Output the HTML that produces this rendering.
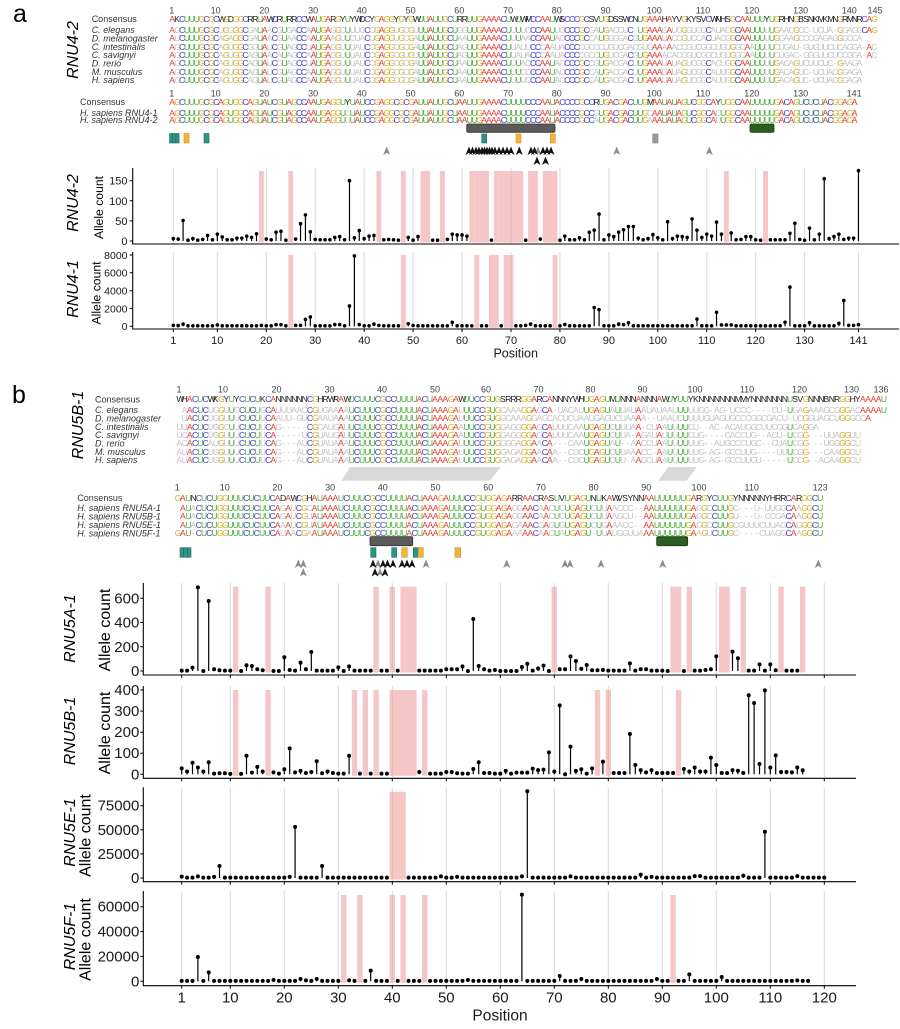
<!DOCTYPE html>
<html><head><meta charset="utf-8">
<style>
html,body{margin:0;padding:0;background:#fff}
body{width:900px;height:1029px;position:relative;overflow:hidden;font-family:"Liberation Sans",sans-serif}
svg{position:absolute;left:0;top:0}
.r{position:absolute;white-space:pre;font-size:8.6px;line-height:10px;height:10px;font-family:"Liberation Sans",sans-serif;color:#aaa}
.r span{display:inline-block;text-align:center;overflow:visible}
#A1 .r span,#A2 .r span{width:4.875px}
#B1 .r span{width:5.22px}
#B2 .r span{width:5.27px}
.blk{position:absolute;left:0;top:0}
.it{font-style:italic}
</style></head>
<body>
<svg width="900" height="1029" viewBox="0 0 900 1029" font-family="Liberation Sans, sans-serif">
<defs><path id="ar" d="M0,0L3.5,8.5L0,6.3L-3.5,8.5Z"/></defs>
<g id="plots"></g>

<!-- panel letters -->
<text x="13" y="22" font-size="25" fill="#000">a</text>
<text x="12" y="403" font-size="25" fill="#000">b</text>

<!-- alignment vertical labels -->
<text class="it" transform="translate(78,50) rotate(-90)" text-anchor="middle" font-size="16" fill="#000">RNU4-2</text>
<text class="it" transform="translate(83,425) rotate(-90)" text-anchor="middle" font-size="16" fill="#000">RNU5B-1</text>

<!-- block labels -->
<g font-size="9" fill="#333">
<text x="91.7" y="22.2">Consensus</text>
<g class="it">
<text x="91.7" y="33.2">C. elegans</text>
<text x="91.7" y="41.5">D. melanogaster</text>
<text x="91.7" y="49.9">C. intestinalis</text>
<text x="91.7" y="58.2">C. savignyi</text>
<text x="91.7" y="66.5">D. rerio</text>
<text x="91.7" y="74.9">M. musculus</text>
<text x="91.7" y="83.2">H. sapiens</text>
</g>
<text x="80" y="104.9">Consensus</text>
<g class="it">
<text x="80" y="115.9">H. sapiens RNU4-1</text>
<text x="80" y="123.2">H. sapiens RNU4-2</text>
</g>
<text x="95" y="402.5">Consensus</text>
<g class="it">
<text x="95" y="413.2">C. elegans</text>
<text x="95" y="421.5">D. melanogaster</text>
<text x="95" y="429.9">C. intestinalis</text>
<text x="95" y="438.2">C. savignyi</text>
<text x="95" y="446.5">D. rerio</text>
<text x="95" y="454.9">M. musculus</text>
<text x="95" y="463.2">H. sapiens</text>
</g>
<text x="77.3" y="500.9">Consensus</text>
<g class="it">
<text x="77.3" y="511.2">H. sapiens RNU5A-1</text>
<text x="77.3" y="519.5">H. sapiens RNU5B-1</text>
<text x="77.3" y="528.2">H. sapiens RNU5E-1</text>
<text x="77.3" y="536.5">H. sapiens RNU5F-1</text>
</g>
</g>

<!-- alignment numbers -->
<g font-size="9" fill="#444" text-anchor="middle">
<text x="171.7" y="13.3">1</text><text x="215.6" y="13.3">10</text><text x="264.3" y="13.3">20</text><text x="313.1" y="13.3">30</text><text x="361.8" y="13.3">40</text><text x="410.6" y="13.3">50</text><text x="459.3" y="13.3">60</text><text x="508.1" y="13.3">70</text><text x="556.8" y="13.3">80</text><text x="605.6" y="13.3">90</text><text x="654.3" y="13.3">100</text><text x="703.1" y="13.3">110</text><text x="751.8" y="13.3">120</text><text x="800.6" y="13.3">130</text><text x="849.3" y="13.3">140</text><text x="875" y="13.3">145</text>
<text x="171.7" y="96.6">1</text><text x="215.6" y="96.6">10</text><text x="264.3" y="96.6">20</text><text x="313.1" y="96.6">30</text><text x="361.8" y="96.6">40</text><text x="410.6" y="96.6">50</text><text x="459.3" y="96.6">60</text><text x="508.1" y="96.6">70</text><text x="556.8" y="96.6">80</text><text x="605.6" y="96.6">90</text><text x="654.3" y="96.6">100</text><text x="703.1" y="96.6">110</text><text x="751.8" y="96.6">120</text><text x="800.6" y="96.6">130</text><text x="854.2" y="96.6">141</text>
<text x="179" y="392.6">1</text><text x="223" y="392.6">10</text><text x="276.5" y="392.6">20</text><text x="329.5" y="392.6">30</text><text x="382" y="392.6">40</text><text x="435" y="392.6">50</text><text x="486" y="392.6">60</text><text x="538.5" y="392.6">70</text><text x="590.5" y="392.6">80</text><text x="642.5" y="392.6">90</text><text x="695" y="392.6">100</text><text x="747" y="392.6">110</text><text x="799.5" y="392.6">120</text><text x="851.5" y="392.6">130</text><text x="881" y="392.6">136</text>
<text x="177.3" y="490.6">1</text><text x="224.7" y="490.6">10</text><text x="277.4" y="490.6">20</text><text x="330.1" y="490.6">30</text><text x="382.8" y="490.6">40</text><text x="435.5" y="490.6">50</text><text x="488.2" y="490.6">60</text><text x="540.9" y="490.6">70</text><text x="593.6" y="490.6">80</text><text x="646.3" y="490.6">90</text><text x="699" y="490.6">100</text><text x="751.7" y="490.6">110</text><text x="820.2" y="490.6">123</text>
</g>

<!-- panel a annotation bars/boxes -->
<rect x="466.7" y="124" width="88.3" height="8.3" rx="1.5" fill="#5a5a5a" stroke="#333" stroke-width="0.8"/>
<rect x="750" y="124" width="24" height="8.3" rx="1.5" fill="#2c5e22" stroke="#173a10" stroke-width="0.8"/>
<g stroke-width="0.6">
<rect x="169.5" y="133.5" width="3.2" height="9.5" fill="#2e9585" stroke="#1f6b5f"/>
<rect x="172.7" y="133.5" width="3.2" height="9.5" fill="#2e9585" stroke="#1f6b5f"/>
<rect x="175.9" y="133.5" width="3.2" height="9.5" fill="#2e9585" stroke="#1f6b5f"/>
<rect x="184" y="133.5" width="5" height="9.5" fill="#f2b53a" stroke="#d4922a"/>
<rect x="204" y="133.5" width="5" height="9.5" fill="#2e9585" stroke="#1f6b5f"/>
<rect x="481.7" y="134" width="5" height="9" fill="#2e9585" stroke="#1f6b5f"/>
<rect x="516" y="134" width="5" height="9" fill="#f2b53a" stroke="#d4922a"/>
<rect x="550.3" y="134" width="5" height="9" fill="#f2b53a" stroke="#d4922a"/>
<rect x="652.7" y="134" width="5.3" height="9" fill="#9a9a9a" stroke="#888"/>
</g>

<!-- panel b annotations -->
<polygon points="350,467 500.7,467 490,480.7 341.7,480.7" fill="#d9d9d9"/>
<polygon points="668.3,467 696.7,467 686.7,480.7 658.3,480.7" fill="#d9d9d9"/>
<rect x="370" y="536.7" width="42.7" height="9" rx="1.5" fill="#5a5a5a" stroke="#333" stroke-width="0.8"/>
<rect x="656.7" y="536.7" width="31" height="9" rx="1.5" fill="#2c5e22" stroke="#173a10" stroke-width="0.8"/>
<g stroke-width="0.6">
<rect x="180" y="547.7" width="3.7" height="9.6" fill="#2e9585" stroke="#1f6b5f"/>
<rect x="183.7" y="547.7" width="3.7" height="9.6" fill="#2e9585" stroke="#1f6b5f"/>
<rect x="187.4" y="547.7" width="3.6" height="9.6" fill="#2e9585" stroke="#1f6b5f"/>
<rect x="370.7" y="547.7" width="5.3" height="9.6" fill="#2e9585" stroke="#1f6b5f"/>
<rect x="391.7" y="547.7" width="5" height="9.6" fill="#2e9585" stroke="#1f6b5f"/>
<rect x="401.7" y="547.7" width="5.6" height="9.6" fill="#f2b53a" stroke="#d4922a"/>
<rect x="413.3" y="547.7" width="5" height="9.6" fill="#2e9585" stroke="#1f6b5f"/>
<rect x="418.3" y="547.7" width="5" height="9.6" fill="#f2b53a" stroke="#d4922a"/>
<rect x="455" y="547.7" width="5.7" height="9.6" fill="#f2b53a" stroke="#d4922a"/>
</g>
<g id="arrows"></g>

<!-- panel a axis text -->
<g font-size="11" fill="#1a1a1a" text-anchor="end">
<text x="127.5" y="184.7">150</text><text x="127.5" y="204.8">100</text><text x="127.5" y="224.9">50</text><text x="127.5" y="245">0</text>
</g>
<g font-size="10.5" fill="#1a1a1a" text-anchor="end">
<text x="127.5" y="258.8">8000</text><text x="127.5" y="276.6">6000</text><text x="127.5" y="294.5">4000</text><text x="127.5" y="312.3">2000</text><text x="127.5" y="330.1">0</text>
</g>
<path d="M129.7,180.7H132.7M129.7,200.8H132.7M129.7,220.9H132.7M129.7,241H132.7M129.7,255H132.7M129.7,272.8H132.7M129.7,290.7H132.7M129.7,308.5H132.7M129.7,326.3H132.7" stroke="#000" stroke-width="1"/>
<g font-size="11" fill="#1a1a1a" text-anchor="middle">
<text x="173.3" y="344">1</text><text x="217.3" y="344">10</text><text x="266.3" y="344">20</text><text x="315.2" y="344">30</text><text x="364.2" y="344">40</text><text x="413.1" y="344">50</text><text x="462" y="344">60</text><text x="511" y="344">70</text><text x="559.9" y="344">80</text><text x="608.9" y="344">90</text><text x="657.8" y="344">100</text><text x="706.8" y="344">110</text><text x="755.7" y="344">120</text><text x="804.6" y="344">130</text><text x="858.5" y="344">141</text>
</g>
<text x="515.7" y="357.5" font-size="12.5" text-anchor="middle" fill="#1a1a1a">Position</text>
<text class="it" transform="translate(78,203) rotate(-90)" text-anchor="middle" font-size="16" fill="#000">RNU4-2</text>
<text transform="translate(103,207.5) rotate(-90)" text-anchor="middle" font-size="12.2" fill="#000">Allele count</text>
<text class="it" transform="translate(78,289) rotate(-90)" text-anchor="middle" font-size="16" fill="#000">RNU4-1</text>
<text transform="translate(100.5,293) rotate(-90)" text-anchor="middle" font-size="12.2" fill="#000">Allele count</text>

<!-- panel b axis text -->
<g font-size="15" fill="#1a1a1a" text-anchor="end">
<text x="139.3" y="603.3">600</text><text x="139.3" y="627.5">400</text><text x="139.3" y="651.8">200</text><text x="139.3" y="676">0</text>
<text x="139.3" y="695">400</text><text x="139.3" y="716.1">300</text><text x="139.3" y="737.2">200</text><text x="139.3" y="758.2">100</text><text x="139.3" y="779.3">0</text>
<text x="139.3" y="810.7">75000</text><text x="139.3" y="834.8">50000</text><text x="139.3" y="858.9">25000</text><text x="139.3" y="883">0</text>
<text x="139.3" y="911.7">60000</text><text x="139.3" y="936.6">40000</text><text x="139.3" y="961.4">20000</text><text x="139.3" y="986.3">0</text>
</g>
<path d="M140.3,598.3H143.3M140.3,622.5H143.3M140.3,646.8H143.3M140.3,671H143.3M140.3,690H143.3M140.3,711.1H143.3M140.3,732.2H143.3M140.3,753.2H143.3M140.3,774.3H143.3M140.3,805.7H143.3M140.3,829.8H143.3M140.3,853.9H143.3M140.3,878H143.3M140.3,906.7H143.3M140.3,931.6H143.3M140.3,956.4H143.3M140.3,981.3H143.3" stroke="#000" stroke-width="1"/>
<g font-size="15" fill="#1a1a1a" text-anchor="middle">
<text x="181.7" y="1002.5">1</text><text x="230.3" y="1002.5">10</text><text x="284.3" y="1002.5">20</text><text x="338.3" y="1002.5">30</text><text x="392.3" y="1002.5">40</text><text x="446.3" y="1002.5">50</text><text x="500.3" y="1002.5">60</text><text x="554.3" y="1002.5">70</text><text x="608.3" y="1002.5">80</text><text x="662.3" y="1002.5">90</text><text x="716.3" y="1002.5">100</text><text x="770.3" y="1002.5">110</text><text x="824.3" y="1002.5">120</text>
</g>
<text x="500" y="1020.5" font-size="15.5" text-anchor="middle" fill="#1a1a1a">Position</text>
<text class="it" transform="translate(75,628.5) rotate(-90)" text-anchor="middle" font-size="16" fill="#000">RNU5A-1</text>
<text transform="translate(110,630) rotate(-90)" text-anchor="middle" font-size="16" fill="#000">Allele count</text>
<text class="it" transform="translate(75,731) rotate(-90)" text-anchor="middle" font-size="16" fill="#000">RNU5B-1</text>
<text transform="translate(110,733) rotate(-90)" text-anchor="middle" font-size="16" fill="#000">Allele count</text>
<text class="it" transform="translate(75,832.5) rotate(-90)" text-anchor="middle" font-size="16" fill="#000">RNU5E-1</text>
<text transform="translate(90.7,835.5) rotate(-90)" text-anchor="middle" font-size="16" fill="#000">Allele count</text>
<text class="it" transform="translate(75,936.5) rotate(-90)" text-anchor="middle" font-size="16" fill="#000">RNU5F-1</text>
<text transform="translate(90.7,939.5) rotate(-90)" text-anchor="middle" font-size="16" fill="#000">Allele count</text>
</svg>

<div class="blk" id="A1">
<div class="r" style="left:169.3px;top:14px">AKCUUUGCGCWGDGGCRRUAWCRURRCCWAUGARGYUYWDCYGAGGYGYGWUUAUUGCURRUUGAAAACUWUWMCCAAUWSCCCGCSVUGDSSWCNUGAAAHAYVGKYSVCWNHSGCAAUUUYUGRHNGBSNKMKMNGRMNRCAG</div>
<div class="r" style="left:169.3px;top:25px">AGCUUUGCGCUGGGGCGAUAACGUGACCAAUGAGGCUUUGCCGAGGUGCGUUUAUUGCUGGUUGAAAACUUUUCCCAAUUGCCCGCGAUGACCUC-UGAAACAUGGGUGCCAUACGCAAUUUUUGAACGCC-UCUA-GGAGGCAG</div>
<div class="r" style="left:169.3px;top:33.3px">AUCUUUGCGCAGAGGCGAUAACGUAACCAAUGAAGUUCUACUGAGGUGCGAUUAUUGCUAAUUGAAAACUUUAACCAAUACCCCGCCAUGGGGACGUGAAAUACCGUCCACUACGGCAAUUUUUGGAAGCCCGAGAGGGCCA</div>
<div class="r" style="left:169.3px;top:41.7px">AGCUUUGCGCAGUGGCGGUAUCGUAGCCUAUGAGGUUUAUCCGAGGCGCGAUUAUUGCUAGUUGAAAACUUAUUCCCAAUACCCCGCCCUGUCGACGUGAAAAACCGUCGGCUGUGGCAAUUUUCUGAU-GUGUUCUCAGGA-AC</div>
<div class="r" style="left:169.3px;top:50px">AGCUUUGCGCAGUGGCAGUAACAUAGCCAAUGAGGUUUAUCCGAGGCGUGUUUAUUGCUAGUUGAAAACUUAUACCCAAUACCCCGCCUGUCGACGUGAAAACACCGUCGGCUGUGGCAAUUUUCUGAC-GGGUUCUCCGGA-AC</div>
<div class="r" style="left:169.3px;top:58.3px">AGCUUUGCGCAGUGGCAGUAUCGUAGCCUAUGAGGUUUAUCCGAGGCGCGAUUAUUGCUAAUUGAAAACUUUACCCAAUACCCCGCCGUGACGACUUGAAAUAUAGUCGGCACUGGCAAUUUUUGACAGUCUUCUC-GAAGA</div>
<div class="r" style="left:169.3px;top:66.7px">AGCUUUGCGCAGUGGCAGUAUCGUAGCCAAUGAGGUUUAUCCGAGGCGCGAUUAUUGCUAAUUGAAAACUUUCCCCAAUACCCCGCCAUGACGACUUGAAAUAUAGUCGGCAUUGGCAAUUUUUGACAGUC-UCUACGGAGA</div>
<div class="r" style="left:169.3px;top:75px">AGCUUUGCGCAGUGGCAGUAUCGUAGCCAAUGAGGUUUAUCCGAGGCGCGAUUAUUGCUAAUUGAAAACUUUUCCCAAUACCCCGCCAUGACGACUUGAAAUAUAGUCGGCAUUGGCAAUUUUUGACAGUC-UCUACGGAGA</div>
</div>
<div class="blk" id="A2">
<div class="r" style="left:169.3px;top:96.7px">AGCUUUGCGCAGUGGCAGUAUCGUAGCCAAUGAGGUYUAUCCGAGGCGCGAUUAUUGCUAAUUGAAAACUUUUCCCAAUACCCCGCCRUGACGACUUGMAAUAUAGUCGGCAYUGGCAAUUUUUGACAGUCUCUACGGAGA</div>
<div class="r" style="left:169.3px;top:107.7px">AGCUUUGCGCAGUGGCAGUAUCGUAGCCAAUGAGGUCUAUCCGAGGCGCGAUUAUUGCUAAUUGAAAACUUUUCCCAAUACCCCGCCGUGACGACUUGCAAUAUAGUCGGCACUGGCAAUUUUUGACAGUCUCUACGGAGA</div>
<div class="r" style="left:169.3px;top:115px">AGCUUUGCGCAGUGGCAGUAUCGUAGCCAAUGAGGUUUAUCCGAGGCGCGAUUAUUGCUAAUUGAAAACUUUUCCCAAUACCCCGCCAUGACGACUUGAAAUAUAGUCGGCAUUGGCAAUUUUUGACAGUCUCUACGGAGA</div>
</div>
<div class="blk" id="B1">
<div class="r" style="left:176.4px;top:394.3px">WHACUCWKGYUYCUCUKCANNNNNNCGHRWRAWUCUUUCGCCUUUUACUAAAGAWUUCCGUGSRRRGGARCANNNYWHUGAGUMUNNNANNNAWUYUUYKNNNNNNNMMYNNNNNNNUSVGNNNBNRGGHYAAAAU</div>
<div class="r" style="left:176.4px;top:405px"> AACUCUGGUUCCUCUGCAUUUAACCGUGAAAAUCUUUCGCCUUUUACUAAAGAUUUCCGUGCAAAGGAGCA-UACAUUGAGUAUUAUAAUAUAAUUUUUGG-AG-UCCC----CU-UGAGAAAGCGGGACAAAAU</div>
<div class="r" style="left:176.4px;top:413.3px"> UACUCUGGUUUCUCUUCAAUU-GUCGAAUAAAUCUUUCGCCUUUUACUAAAGAUUUCCGUGGCAAAGGAGCACUCUAAUGAGUCUAAAA--UAAUCUUUUGUAGUGCCCGGCGACU-UCGGUAGCUGGGCCA</div>
<div class="r" style="left:176.4px;top:421.7px">UUACUCUGGCUUCUCUUCAG-----CGCAUGAUUCUUUCGCCUUUUACUAAAGAAUUCCGUGGAGGGGAGCAUUUCAAUGAGUCUUUAA-CUAAUUUUCU--AC-ACAUGGCUUCGGUCAGGA</div>
<div class="r" style="left:176.4px;top:430px">UCACUCUGGUUUCUCUUCA-----UCGUAUGAUUCUUUCGCCUUUUACUAAAGAAUUCCGUGGAGGGGAGCAUUUCAAUGAGUCUUA-AGAUAUUUUUCUG----CACCUG--ACU-UCGG---UUAGGUU</div>
<div class="r" style="left:176.4px;top:438.3px">ACACUCAUGUUUCUCUUCAG---AUCGUAUAAAUCUUUCGCCUUUUACUAAAGAUUUCCGUGGGGAGGAACA---CAAUGAGUAU--AACCUAAUUUUUUG--AUGCCCUGC--CUAUCGG---UGGGGCU</div>
<div class="r" style="left:176.4px;top:446.7px">AUACUCUGGUUUCUCUUCAG---AUCGUAUAAAUCUUUCGCCUUUUACUAAAGAUUUCCGUGGAGAGGAACAA--CUCUGAGUCUUAAACC-AAUUUUUUG-AG-GCCUUG----UUUCGG---CAAGGCU</div>
<div class="r" style="left:176.4px;top:455px">AUACUCUGGUUUCUCUUCAG---AUCGUAUAAAUCUUUCGCCUUUUACUAAAGAUUUCCGUGGAGAGGAACAA--CUCUGAGUCUU-AAGCUAAUUUUUUG-AG-GCCUUGU-----UCCG--ACAAGGCU</div>
</div>
<div class="blk" id="B2">
<div class="r" style="left:174.7px;top:492.7px">GAUNCUCUGGUUUCUCUUCADAWCGHAUAAAUCUUUCGCCUUUUACUAAAGAUUUCCGUGGAGARRAACRASUVUGAGUNUKAWVSYNNAAUUUUUUGARGYCUUGYNNNNNYHRRCARGGCU</div>
<div class="r" style="left:174.7px;top:503px"> AUACUCUGGUUUCUCUUCAGAUCGCAUAAAUCUUUCGCCUUUUACUAAAGAUUUCCGUGGAGAGGAACAACUCUGAGUCUUAACCC--AAUUUUUUGAGGCCUUGC---U-UUGGCAAGGCU</div>
<div class="r" style="left:174.7px;top:511.3px"> AUACUCUGGUUUCUCUUCAGAUCGUAUAAAUCUUUCGCCUUUUACUAAAGAUUUCCGUGGAGAGGAACAACUCUGAGUCUUAAGCU--AAUUUUUUGAGGCCUUGU---U-CCGACAAGGCU</div>
<div class="r" style="left:174.7px;top:520px"> AUACUCUGGUUUCUCUUCAAAUCGUAUAAAUCUUUCGCCUUUUACUAAAGAUUUCCGUGGAGAGAAACGAGUGUGAGUCUGAAACC--AAUUUUUUGAGGCCUUGCGUUUCUUAGCAGGGCU</div>
<div class="r" style="left:174.7px;top:528.3px">GAU-CUCUGGUUUCUCUUCAUAACGAAUAAAUCUUUCGCCUUUUACUAAAGAUUUCCGUGGAGAAAAACAACUAUGAGU-UUAUGGUUAAAUUUUUUGAAGUCUUGC----CUAGGCAAGGCU</div>
</div>

<script>
(function(){
var COL={A:'#e23b2f',C:'#3a3ad0',G:'#d4ae22',U:'#4aae3c'};
['A1','A2','B1','B2'].forEach(function(id){
  var rows=document.querySelectorAll('#'+id+' .r');
  var cons=rows[0].textContent;
  for(var ri=0;ri<rows.length;ri++){
    var r=rows[ri],s=r.textContent;r.textContent='';
    var frag=document.createDocumentFragment();
    for(var i=0;i<s.length;i++){
      var c=s[i],sp=document.createElement('span');sp.textContent=c;
      sp.style.color = ri===0 ? (COL[c]||'#1a1a1a') : ((c===cons[i]&&COL[c])?COL[c]:'#c3c3c3');
      frag.appendChild(sp);
    }
    r.appendChild(frag);
  }
});

var NS='http://www.w3.org/2000/svg';
var G=document.getElementById('plots');
function el(tag,a,parent){var e=document.createElementNS(NS,tag);for(var k in a)e.setAttribute(k,a[k]);(parent||G).appendChild(e);return e;}
function parse(s){return s.split(',').map(function(v){return v==='x'?null:+v;});}
function dflt(n,d,o){var a=[];for(var i=0;i<n;i++)a.push(d);for(var k in o)a[k-1]=o[k];return a;}
function plot(c){
  var X=function(p){return c.x0+(p-1)*c.dx;};
  c.grid.forEach(function(p){el('line',{x1:X(p),x2:X(p),y1:c.top,y2:c.axis,stroke:'#d9d9d9','stroke-width':1});});
  c.v.forEach(function(v,i){if(v===null)el('rect',{x:X(i+1)-c.dx/2,y:c.bt,width:c.dx,height:c.y0-c.bt+1.5,fill:'rgb(240,160,160)','fill-opacity':0.6});});
  el('line',{x1:c.left,x2:c.left,y1:c.top,y2:c.axis+0.5,stroke:'#000','stroke-width':1.1});
  el('line',{x1:c.left,x2:c.right,y1:c.axis,y2:c.axis,stroke:'#000','stroke-width':1.1});
  if(c.ticks)c.grid.forEach(function(p){el('line',{x1:X(p),x2:X(p),y1:c.axis,y2:c.axis+3,stroke:'#000','stroke-width':1});});
  c.v.forEach(function(v,i){
    if(v===null)return;
    var x=X(i+1),y=c.y0-v*c.k;
    if(c.y0-y>1.2)el('line',{x1:x,x2:x,y1:c.y0,y2:y,stroke:'#000','stroke-width':1.2});
    el('circle',{cx:x,cy:y,r:c.r,fill:'#000'});
  });
}
var gA=[1,10,20,30,40,50,60,70,80,90,100,110,120,130,141];
var gB=[1,10,20,30,40,50,60,70,80,90,100,110,120];
var r42=parse('6,5,51,2,6,2,4,14,3,17,10,3,3,7,7,12,9,18,x,5,3,22,24,2,x,5,43,65,23,4,3,3,3,9,11,3,150,8,26,6,12,14,x,3,4,3,2,x,9,2,11,x,x,2,2,x,4,17,15,15,12,x,x,x,x,2,x,x,x,x,x,x,2,x,x,5,x,x,x,2,12,3,3,8,3,22,27,67,3,15,11,22,28,36,36,7,3,6,16,8,3,48,6,12,11,9,55,27,9,17,12,47,17,x,20,3,4,11,11,3,2,x,3,3,3,3,19,44,4,2,32,3,17,155,6,11,17,4,7,7,175');
var r41=parse('100,80,250,60,60,60,60,60,60,150,60,60,60,60,60,60,60,60,100,60,60,180,180,60,x,100,100,780,1050,60,60,60,60,200,200,60,2280,7900,200,60,60,250,100,60,60,60,60,x,300,100,60,60,60,60,60,60,60,450,60,60,60,60,x,60,60,x,x,60,x,x,60,60,100,250,60,60,60,60,x,60,200,60,60,60,60,60,2100,1870,60,60,60,250,180,400,60,60,60,60,60,60,60,60,60,60,60,60,60,820,60,60,60,1570,150,150,150,60,60,60,60,60,60,60,60,60,60,450,4400,60,60,60,400,60,60,60,60,60,330,2900,100,100,180');
plot({x0:173.3,dx:4.894,y0:241,k:0.402,top:168,axis:244,left:132.7,right:899,bt:171,r:1.8,grid:gA,v:r42});
plot({x0:173.3,dx:4.894,y0:326.3,k:0.008913,top:252,axis:329,left:132.7,right:899,bt:255,r:1.8,grid:gA,v:r41,ticks:true});
var b5a=parse('3,3,28,690,0,578,14,6,3,3,x,0,47,41,14,6,x,0,0,113,8,3,69,14,157,3,3,3,3,30,0,38,3,3,3,3,x,3,3,x,3,x,x,x,3,3,3,3,3,14,14,14,38,0,429,41,14,3,8,0,0,0,0,33,60,3,22,44,0,x,14,14,121,83,19,50,6,6,8,3,3,3,3,63,3,14,14,3,3,3,0,x,x,0,x,3,3,8,14,121,x,x,160,105,x,3,3,55,3,55,6,x,3,3,3,x');
var b5b=parse('28,13,55,32,13,57,3,5,5,2,x,2,88,8,35,13,x,9,3,24,123,9,16,6,11,62,5,13,6,3,3,88,x,3,x,3,x,3,3,x,x,x,x,x,11,x,3,3,3,11,11,5,3,3,25,57,6,6,3,3,16,3,8,8,8,27,20,22,104,13,327,0,131,16,24,3,28,x,60,x,6,6,6,191,44,20,9,20,6,6,6,6,x,25,13,32,13,13,79,44,6,6,20,17,6,375,338,49,398,32,90,11,11,9,32,19');
var b5e=dflt(120,400,{1:1400,4:1700,7:1200,8:12400,21:1200,22:53000,27:12400,40:null,41:null,42:null,49:1700,52:1200,64:1700,65:90000,73:1700,86:3500,88:1200,96:2000,97:2000,105:2500,109:48000,115:2000});
var b5f=dflt(117,300,{4:19500,6:7200,18:1000,23:1900,24:700,26:1900,31:null,32:700,34:null,36:8600,40:null,42:null,46:null,54:1000,64:69700,71:4300,75:1900,89:1900,92:null,95:5600,101:3500,115:700});
plot({x0:181.7,dx:5.4,y0:671,k:0.1212,top:583,axis:675,left:143.3,right:856,bt:586.7,r:2,grid:gB,v:b5a,ticks:true});
plot({x0:181.7,dx:5.4,y0:774.3,k:0.2108,top:686,axis:778.3,left:143.3,right:856,bt:690,r:2,grid:gB,v:b5b,ticks:true});
plot({x0:181.7,dx:5.4,y0:878,k:0.000964,top:787.3,axis:881.7,left:143.3,right:856,bt:791.7,r:2,grid:gB,v:b5e,ticks:true});
plot({x0:181.7,dx:5.4,y0:981.3,k:0.001243,top:891,axis:985.7,left:143.3,right:856,bt:895,r:2,grid:gB,v:b5f,ticks:true});

var AR=document.getElementById('arrows');
function arrows(xs,y,col){xs.forEach(function(x){var u=document.createElementNS(NS,'use');u.setAttribute('href','#ar');u.setAttributeNS('http://www.w3.org/1999/xlink','xlink:href','#ar');u.setAttribute('x',x);u.setAttribute('y',y);u.setAttribute('fill',col);AR.appendChild(u);});}
arrows([386.7,616.7,709.3,538],146.5,'#8a8a8a');
arrows([469,472.5,476,479,482,484.5,487,489.5,492,495,499,503,507,511,519.3,531,534.5,543,547,551],146.5,'#111');
arrows([537,545.5],156.5,'#111');
arrows([298.3,303.3,378,426,506.7,565,570,601,662.7,818.3],559.5,'#8a8a8a');
arrows([303.3,380],568,'#8a8a8a');
arrows([373,383,387.5,393,402,407,412],559.5,'#111');
arrows([375,385],568,'#111');
})();
</script>
</body></html>
